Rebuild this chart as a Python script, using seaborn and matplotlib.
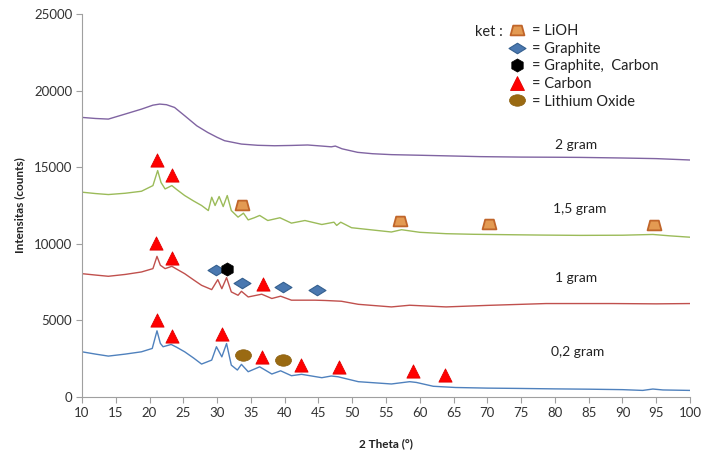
import numpy as np
import pandas as pd
import matplotlib
matplotlib.use("Agg")
import matplotlib.pyplot as plt
from matplotlib.path import Path
from matplotlib.lines import Line2D
import seaborn as sns

# ---------------- data ----------------
samples = ["2 gram", "1,5 gram", "1 gram", "0,2 gram"]

x_2g = [10, 12, 13.9, 16.4, 18.8, 20.5, 21.5, 22.5, 23.7, 25.2, 27, 28.6, 30, 31.1, 33.6, 36,
        38.5, 41, 43.4, 45.5, 46.9, 47.5, 48.5, 50.8, 53, 55.8, 60, 65, 68.9, 75, 80, 83.7,
        90, 95, 100]
y_2g = [18250, 18180, 18140, 18470, 18790, 19050, 19120, 19080, 18900, 18360, 17700, 17270,
        16950, 16730, 16510, 16430, 16400, 16420, 16450, 16380, 16330, 16380, 16200, 15970,
        15880, 15820, 15780, 15730, 15690, 15660, 15650, 15640, 15600, 15560, 15470]

x_15g = [10, 12, 13.9, 16.4, 18.8, 20.5, 21.2, 21.7, 22.3, 23.3, 24, 25.2, 26.5, 27.7, 28.7,
         29.2, 29.7, 30.3, 30.9, 31.5, 32.1, 33.1, 33.9, 34.6, 35.5, 36.3, 37.5, 39.3, 41.0,
         43.0, 45.5, 47.3, 47.7, 48.3, 49.9, 52, 55.8, 57.3, 60, 63.9, 68, 73.8, 78, 83.7, 90,
         94.5, 97, 100]
y_15g = [13370, 13280, 13215, 13300, 13430, 13800, 14780, 14000, 13580, 13800, 13550, 13150,
         12800, 12500, 12170, 13040, 12500, 13085, 12430, 13150, 12170, 11740, 12000, 11560,
         11700, 11850, 11520, 11700, 11350, 11520, 11260, 11410, 11200, 11410, 11050, 10950,
         10770, 10920, 10750, 10660, 10620, 10590, 10570, 10550, 10560, 10610, 10520, 10430]

x_1g = [10, 12, 13.9, 16.4, 18.8, 20.5, 21.1, 21.6, 22.3, 23.3, 24, 25.2, 26.5, 27.7, 29.2,
        30.1, 30.7, 31.4, 32.1, 33.1, 33.6, 34.6, 36.6, 38.1, 39.4, 41, 44.5, 46, 48.4, 50.9,
        55.8, 58.5, 63.9, 70, 78.7, 88.5, 95, 100]
y_1g = [8050, 7960, 7880, 8000, 8160, 8380, 9180, 8600, 8380, 8530, 8350, 8050, 7650, 7290,
        7010, 7660, 7070, 7790, 6860, 6640, 6900, 6530, 6710, 6430, 6580, 6320, 6320, 6300,
        6250, 6050, 5880, 5990, 5880, 5980, 6100, 6100, 6080, 6100]

x_02g = [10, 12, 13.9, 16.4, 18.8, 20.4, 21.1, 21.6, 22, 23.2, 24, 25.2, 26.5, 27.7, 29.2,
         29.9, 30.7, 31.4, 32.1, 33, 33.6, 34.6, 36.3, 38.1, 39.4, 41, 42.5, 45.5, 46.9, 47.9,
         50.9, 55.8, 58.5, 59.5, 62, 65.3, 70, 74.5, 80, 85, 90, 93, 94.5, 96, 100]
y_02g = [2950, 2800, 2670, 2800, 2950, 3170, 4320, 3500, 3280, 3430, 3250, 2950, 2550, 2150,
         2410, 3280, 2620, 3490, 2080, 1760, 2130, 1650, 1970, 1500, 1710, 1390, 1480, 1260,
         1370, 1320, 1000, 850, 1000, 950, 700, 620, 580, 560, 530, 510, 480, 430, 520, 460, 430]

# phase markers (2 theta, intensity)
carbon_x = [21.1, 23.3, 21.0, 23.3, 36.8, 21.1, 23.3, 30.7, 36.6, 42.4, 48.0, 59.0, 63.8]
carbon_y = [15490, 14520, 10030, 9050, 7360, 5010, 3970, 4100, 2600, 2080, 1950, 1690, 1430]
lioh_x = [33.7, 57.0, 70.2, 94.6]
lioh_y = [12560, 11520, 11260, 11200]
graphite_x = [29.8, 33.7, 39.7, 44.8]
graphite_y = [8270, 7420, 7160, 6970]
graph_carbon_x = [31.5]
graph_carbon_y = [8380]
li2o_x = [33.8, 39.7]
li2o_y = [2730, 2410]

label_x = [83.1, 83.7, 83.2, 83.4]
label_y = [16470, 12300, 7750, 2930]

legend_labels = ["= LiOH", "= Graphite", "= Graphite,  Carbon", "= Carbon", "= Lithium Oxide"]
x_ticks = list(range(10, 101, 5))
y_ticks = list(range(0, 25001, 5000))

# ---------------- style ----------------
sns.set_theme(style="white")
plt.rcParams["font.family"] = ["Lato", "DejaVu Sans"]

colors = {"2 gram": "#8064A2", "1,5 gram": "#9BBB59", "1 gram": "#C0504D", "0,2 gram": "#4F81BD"}

frames = []
for name, xs, ys in zip(samples, [x_2g, x_15g, x_1g, x_02g], [y_2g, y_15g, y_1g, y_02g]):
    frames.append(pd.DataFrame({"theta": xs, "intensity": ys, "sample": name}))
df = pd.concat(frames, ignore_index=True)

fig = plt.figure(figsize=(7.02, 4.5), dpi=100)
ax = fig.add_axes([82 / 702, 1 - 397 / 450, 608 / 702, (397 - 14) / 450])

sns.lineplot(data=df, x="theta", y="intensity", hue="sample", palette=colors,
             estimator=None, legend=False, linewidth=1.0, ax=ax)

# marker shapes
trap = Path([(-1, -0.7), (1, -0.7), (0.62, 0.7), (-0.62, 0.7), (-1, -0.7)],
            [Path.MOVETO, Path.LINETO, Path.LINETO, Path.LINETO, Path.CLOSEPOLY])
diam = Path([(-1, 0), (0, 0.62), (1, 0), (0, -0.62), (-1, 0)],
            [Path.MOVETO, Path.LINETO, Path.LINETO, Path.LINETO, Path.CLOSEPOLY])
uc = Path.unit_circle()
ell = Path(uc.vertices * np.array([1.0, 0.72]), uc.codes)

tri_kw = dict(marker="^", s=9.5 ** 2, color="#FF0000", edgecolor="#E00000", linewidth=0.6)
lioh_kw = dict(marker=trap, s=10 ** 2, color="#E39A52", edgecolor="#C0652A", linewidth=1.3)
gra_kw = dict(marker=diam, s=12.2 ** 2, color="#4A78B0", edgecolor="#35608F", linewidth=0.8)
gc_kw = dict(marker="h", s=9.5 ** 2, color="#000000", edgecolor="#000000", linewidth=0.5)
li2o_kw = dict(marker=ell, s=11.5 ** 2, color="#9A6A12", edgecolor="#8A5E0E", linewidth=0.5)

sns.scatterplot(x=carbon_x, y=carbon_y, ax=ax, zorder=5, legend=False, **tri_kw)
sns.scatterplot(x=lioh_x, y=lioh_y, ax=ax, zorder=5, legend=False, **lioh_kw)
sns.scatterplot(x=graphite_x, y=graphite_y, ax=ax, zorder=5, legend=False, **gra_kw)
sns.scatterplot(x=graph_carbon_x, y=graph_carbon_y, ax=ax, zorder=5, legend=False, **gc_kw)
sns.scatterplot(x=li2o_x, y=li2o_y, ax=ax, zorder=5, legend=False, **li2o_kw)

for lx, ly, name in zip(label_x, label_y, samples):
    ax.text(lx, ly, name, ha="center", va="center", fontsize=10, color="#222222")

ax.set_xlim(10, 100)
ax.set_ylim(0, 25000)
ax.set_xticks(x_ticks)
ax.set_yticks(y_ticks)
ax.tick_params(axis="both", which="major", direction="out", length=4, width=0.8,
               color="#A0A0A0", labelsize=9.5, labelcolor="#333333", pad=3, bottom=True, left=True)
for side in ["top", "right"]:
    ax.spines[side].set_visible(False)
for side in ["left", "bottom"]:
    ax.spines[side].set_color("#A0A0A0")
    ax.spines[side].set_linewidth(0.8)

ax.set_xlabel("2 Theta (°)", fontsize=8.5, fontweight="bold", color="#222222", labelpad=14)
ax.set_ylabel("Intensitas (counts)", fontsize=8.5, fontweight="bold", color="#222222", labelpad=6)

def h(kw):
    return Line2D([], [], linestyle="none", marker=kw["marker"], markersize=np.sqrt(kw["s"]),
                  markerfacecolor=kw["color"], markeredgecolor=kw["edgecolor"],
                  markeredgewidth=kw["linewidth"])

handles = [h(lioh_kw), h(gra_kw), h(gc_kw), h(tri_kw), h(li2o_kw)]
leg = ax.legend(handles, legend_labels, loc="upper left",
                bbox_to_anchor=(510 / 702, 1 - 24 / 450), bbox_transform=fig.transFigure,
                frameon=False, borderpad=0, borderaxespad=0, handlelength=1.0,
                handletextpad=0.5, labelspacing=0.25, fontsize=10.5)
for t in leg.get_texts():
    t.set_color("#222222")
fig.text(475 / 702, 1 - 31.7 / 450, "ket :", ha="left", va="center", fontsize=10.5, color="#222222")

fig.savefig("out.png", dpi=100)
